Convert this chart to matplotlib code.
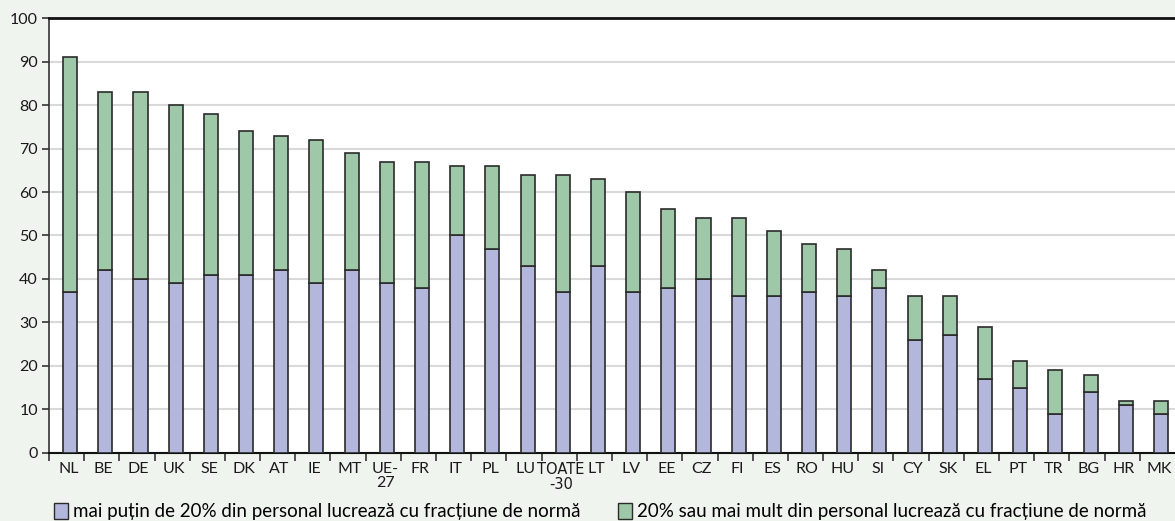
import numpy as np
import matplotlib.pyplot as plt
from matplotlib.patches import Patch

# country codes along the x axis
countries = ['NL', 'BE', 'DE', 'UK', 'SE', 'DK', 'AT', 'IE', 'MT', 'UE-\n27',
             'FR', 'IT', 'PL', 'LU', 'TOATE\n-30', 'LT', 'LV', 'EE', 'CZ', 'FI',
             'ES', 'RO', 'HU', 'SI', 'CY', 'SK', 'EL', 'PT', 'TR', 'BG', 'HR', 'MK']

# share of establishments, less than 20% part-time staff
under_20 = [37, 42, 40, 39, 41, 41, 42, 39, 42, 39,
            38, 50, 47, 43, 37, 43, 37, 38, 40, 36,
            36, 37, 36, 38, 26, 27, 17, 15, 9, 14, 11, 9]

# total share of establishments using part-time work
total = [91, 83, 83, 80, 78, 74, 73, 72, 69, 67,
         67, 66, 66, 64, 64, 63, 60, 56, 54, 54,
         51, 48, 47, 42, 36, 36, 29, 21, 19, 18, 12, 12]

over_20 = [t - u for t, u in zip(total, under_20)]

label_low = 'mai puțin de 20% din personal lucrează cu fracțiune de normă'
label_high = '20% sau mai mult din personal lucrează cu fracțiune de normă'

col_low = '#b4b7dc'
col_high = '#9ec8a8'
edge = '#2b2b2b'
bg = '#eff4ee'

plt.rcParams['font.family'] = ['Lato', 'DejaVu Sans']

fig = plt.figure(figsize=(11.75, 5.21), dpi=100, facecolor=bg)
ax = fig.add_axes([0.0417, 0.1311, 0.9583, 0.8338])
ax.set_facecolor('white')

x = np.arange(len(countries))
ax.bar(x + 0.1, under_20, width=0.4, color=col_low, edgecolor=edge, linewidth=1.2, zorder=3)
ax.bar(x + 0.1, over_20, width=0.4, bottom=under_20, color=col_high, edgecolor=edge,
       linewidth=1.2, zorder=3)

ax.set_xlim(-0.5, len(countries) - 0.5)
ax.set_ylim(0, 100)
ax.set_yticks(range(0, 101, 10))
ax.yaxis.grid(True, color='#d9d9d9', linewidth=1.5, zorder=0)

# ticks between categories, labels under the bars
ax.set_xticks(x - 0.5, minor=False)
ax.set_xticklabels([])
ax.set_xticks(x + 0.05, minor=True)
ax.set_xticklabels(countries, minor=True, fontsize=11.5, color='#1a1a1a', linespacing=0.95)
ax.tick_params(axis='x', which='major', length=6, width=1.2, color='#333333', direction='out')
ax.tick_params(axis='x', which='minor', length=0, pad=7)
ax.tick_params(axis='y', length=5, width=1.2, color='#333333', labelsize=11.5,
               labelcolor='#1a1a1a', pad=3)

for lbl in ax.get_xticklabels(minor=True):
    if lbl.get_text().startswith('TOATE'):
        lbl.set_family(['Liberation Sans Narrow', 'DejaVu Sans'])
        lbl.set_fontsize(10.5)

ax.spines['top'].set_color('#111111')
ax.spines['top'].set_linewidth(2)
ax.spines['left'].set_color('#333333')
ax.spines['left'].set_linewidth(1.2)
ax.spines['bottom'].set_color('#111111')
ax.spines['bottom'].set_linewidth(1.5)
ax.spines['right'].set_visible(False)

handles = [Patch(facecolor=col_low, edgecolor=edge, linewidth=1.0, label=label_low),
           Patch(facecolor=col_high, edgecolor=edge, linewidth=1.0, label=label_high)]
fig.legend(handles=handles, loc='center left', bbox_to_anchor=(0.046, 0.018), ncol=2,
           frameon=False, fontsize=13.5, handlelength=0.75, handleheight=0.95,
           handletextpad=0.25, columnspacing=2.0, borderaxespad=0, borderpad=0)

fig.savefig('out.png', dpi=100, facecolor=bg)
